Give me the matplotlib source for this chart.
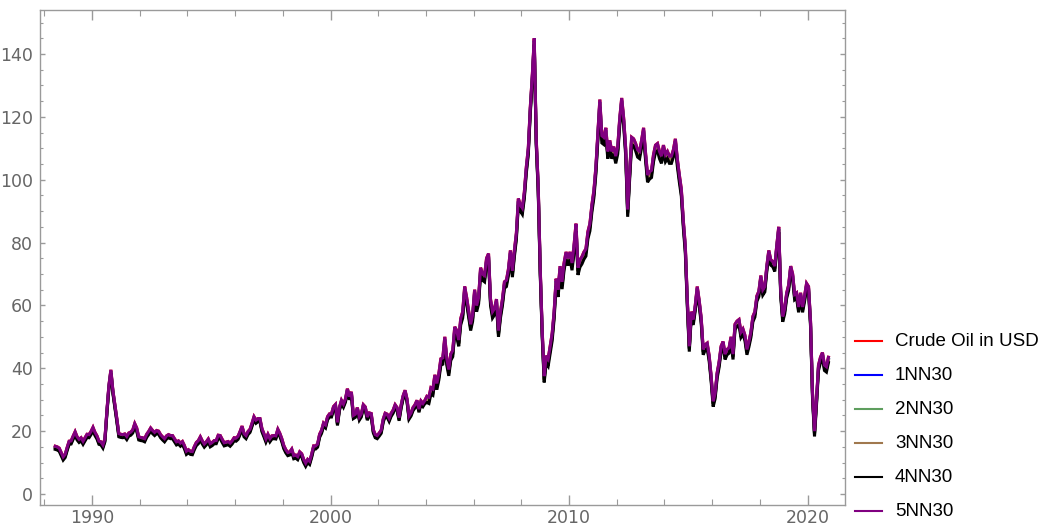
import matplotlib
matplotlib.use("Agg")
import matplotlib.pyplot as plt
from matplotlib.ticker import MultipleLocator
from matplotlib.lines import Line2D
import numpy as np

# Monthly Brent crude prices (USD), Jun 1988 - Nov 2020
crude_usd = [
    15.2, 15.0, 14.6, 13.2, 11.8, 12.6, 14.8,                                  # 1988
    16.8, 16.9, 18.4, 19.8, 18.2, 17.4, 17.9, 16.8, 17.9, 19.0, 18.9, 19.9,    # 1989
    21.2, 19.6, 18.5, 16.8, 16.6, 15.6, 17.6, 26.5, 34.5, 39.5, 33.0, 28.5,    # 1990
    24.0, 19.2, 19.0, 18.9, 19.1, 18.3, 19.4, 19.7, 20.4, 22.4, 21.0, 18.2,    # 1991
    18.0, 17.9, 17.6, 19.0, 19.9, 21.0, 20.2, 19.6, 20.2, 20.0, 18.9, 18.2,    # 1992
    17.6, 18.5, 18.9, 18.6, 18.6, 17.6, 16.6, 16.9, 16.2, 16.7, 15.4, 13.6,    # 1993
    14.1, 13.6, 13.5, 15.1, 16.4, 17.0, 18.2, 16.9, 15.9, 16.6, 17.5, 16.0,    # 1994
    16.4, 17.0, 17.0, 18.7, 18.6, 17.4, 16.3, 16.5, 16.7, 16.2, 16.9, 17.9,    # 1995
    17.8, 18.4, 19.9, 21.6, 19.2, 18.6, 19.9, 20.6, 22.5, 24.6, 23.5, 24.0,    # 1996
    24.0, 20.8, 19.2, 17.5, 19.0, 17.6, 18.5, 18.6, 18.5, 20.6, 19.3, 17.6,    # 1997
    15.4, 14.1, 13.2, 13.4, 14.3, 12.2, 12.4, 11.9, 13.4, 12.8, 11.0, 9.8,     # 1998
    11.0, 10.4, 12.6, 15.3, 15.3, 15.9, 19.0, 20.3, 22.6, 22.0, 24.6, 25.5,    # 1999
    25.5, 27.8, 28.5, 22.8, 27.6, 29.8, 28.6, 30.2, 33.5, 31.0, 32.5, 25.0,    # 2000
    25.4, 27.5, 24.5, 25.5, 28.4, 27.7, 24.5, 25.8, 25.6, 20.5, 18.9, 18.6,    # 2001
    19.4, 20.3, 23.8, 25.7, 25.4, 24.1, 25.7, 26.7, 28.4, 27.5, 24.3, 28.2,    # 2002
    31.2, 33.0, 30.2, 24.8, 25.8, 27.5, 28.4, 29.8, 27.0, 29.6, 28.8, 29.8,    # 2003
    31.1, 30.8, 33.8, 33.4, 37.9, 35.2, 38.3, 43.0, 43.3, 50.0, 43.0, 39.6,    # 2004
    44.5, 45.7, 53.2, 52.0, 49.0, 55.8, 58.0, 66.0, 62.5, 58.2, 54.0, 57.0,    # 2005
    65.0, 60.0, 62.5, 72.0, 70.0, 69.5, 75.0, 76.5, 62.0, 58.0, 59.0, 62.0,    # 2006
    52.0, 58.0, 62.0, 67.5, 68.0, 71.5, 77.5, 71.0, 77.5, 83.0, 94.0, 92.0,    # 2007
    91.0, 96.0, 104.0, 110.0, 123.0, 133.0, 145.0, 113.0, 98.0, 72.0, 52.0, 37.5,  # 2008
    44.0, 43.0, 47.0, 51.0, 58.0, 68.5, 65.0, 72.5, 67.5, 73.5, 77.0, 75.0,    # 2009
    77.0, 73.5, 79.0, 86.0, 72.0, 74.5, 75.5, 77.0, 78.0, 83.5, 86.0, 92.0,    # 2010
    96.5, 104.0, 115.0, 125.5, 114.0, 113.5, 116.5, 109.0, 112.5, 109.0, 110.5, 107.5,  # 2011
    110.5, 119.5, 126.0, 119.5, 110.0, 90.5, 102.5, 113.5, 113.0, 111.5, 109.5, 109.0,  # 2012
    112.5, 116.5, 108.5, 101.5, 102.5, 103.0, 108.0, 111.0, 111.5, 109.0, 107.5, 111.0,  # 2013
    108.0, 109.0, 107.5, 107.5, 109.5, 113.0, 106.5, 101.5, 97.0, 87.0, 79.0, 62.0,     # 2014
    47.0, 58.0, 55.5, 60.0, 66.0, 61.5, 56.0, 46.0, 47.5, 48.0, 44.0, 37.5,    # 2015
    29.5, 32.0, 38.5, 42.0, 47.0, 48.5, 44.5, 46.0, 46.5, 50.0, 44.5, 54.0,    # 2016
    55.0, 55.5, 51.5, 52.5, 50.5, 46.0, 48.5, 51.5, 56.5, 58.0, 63.0, 64.5,    # 2017
    69.5, 65.0, 66.0, 72.5, 77.5, 74.5, 74.0, 72.5, 79.0, 85.0, 64.5, 56.5,    # 2018
    59.0, 64.0, 66.5, 72.5, 70.0, 63.5, 64.0, 59.5, 64.0, 59.5, 63.0, 67.0,    # 2019
    66.0, 55.0, 32.0, 20.0, 30.0, 41.0, 43.5, 45.0, 41.0, 40.5, 43.5,          # 2020
]

# Average yearly deviation of each network forecast from the price (1988..2020)
years = list(range(1988, 2021))
dev_1nn = [-0.4] * 16 + [-0.8] * 11 + [-0.6] * 6
dev_2nn = [-0.5] * 16 + [-1.0] * 11 + [-0.7] * 6
dev_3nn = [-0.6] * 16 + [-1.2] * 11 + [-0.9] * 6
dev_4nn = [-1.0] * 16 + [-2.0] * 5 + [-2.3] * 6 + [-1.7] * 6
dev_5nn = [0.0] * 33

series_labels = ["Crude Oil in USD", "1NN30", "2NN30", "3NN30", "4NN30", "5NN30"]
series_colors = ["#ff0000", "#0000ff", "#5e9e5e", "#a0784e", "#000000", "#800080"]

# decimal-year time axis, mid-month points starting June 1988
crude = np.array(crude_usd)
t = 1988 + (5 + np.arange(len(crude)) + 0.5) / 12.0
year_idx = np.floor(t).astype(int) - years[0]

series = [crude]
for dev in (dev_1nn, dev_2nn, dev_3nn, dev_4nn, dev_5nn):
    series.append(crude + np.array(dev)[year_idx])

fig = plt.figure(figsize=(10.44, 5.24), dpi=100)
ax = fig.add_axes([40 / 1044, 19 / 524, 805 / 1044, 495 / 524])

for y, c, lab in zip(series, series_colors, series_labels):
    ax.plot(t, y, color=c, lw=2.2, label=lab, solid_joinstyle="miter")

ax.set_xlim(1987.82, 2021.57)
ax.set_ylim(-3.5, 154)

frame_col = "#9a9a9a"
for s in ax.spines.values():
    s.set_color(frame_col)
    s.set_linewidth(1.0)

ax.xaxis.set_major_locator(MultipleLocator(10))
ax.xaxis.set_minor_locator(MultipleLocator(2))
ax.yaxis.set_major_locator(MultipleLocator(20))
ax.yaxis.set_minor_locator(MultipleLocator(5))

tick_font = ["Liberation Sans Narrow", "DejaVu Sans"]
ax.tick_params(axis="both", which="both", direction="in", top=True, right=True,
               color=frame_col, labelcolor="#666666")
ax.tick_params(axis="x", which="major", length=7.2, width=1.0, pad=3)
ax.tick_params(axis="x", which="minor", length=4.0, width=0.8)
ax.tick_params(axis="y", which="major", length=3.6, width=1.0, pad=5)
ax.tick_params(axis="y", which="minor", length=2.2, width=0.8)
for lbl in ax.get_xticklabels() + ax.get_yticklabels():
    lbl.set_family(tick_font)
    lbl.set_fontsize(12.5)

# legend column to the right of the frame
handles = ax.get_lines()
for i, (h, lab) in enumerate(zip(handles, series_labels)):
    yc = 1 - (341 + 34 * i) / 524
    fig.add_artist(Line2D([855 / 1044, 882 / 1044], [yc, yc], color=h.get_color(),
                          lw=1.5, transform=fig.transFigure))
    fig.text(895 / 1044, yc, lab, ha="left", va="center", fontsize=13.5,
             family=["Liberation Sans", "DejaVu Sans"], color="#000000")

fig.savefig("out.png", dpi=100)
